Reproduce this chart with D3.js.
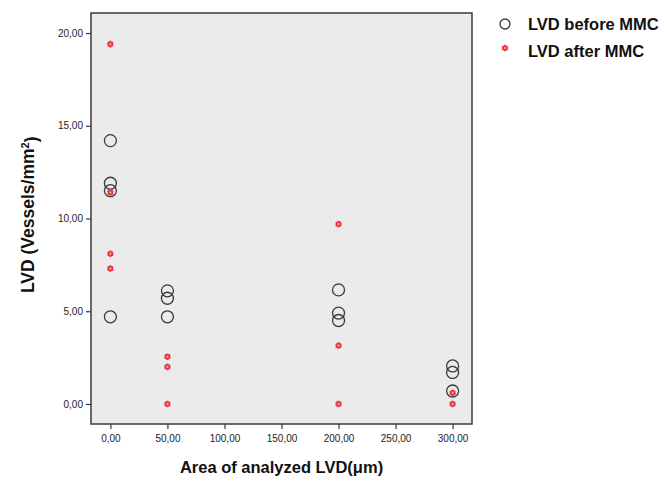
<!DOCTYPE html>
<html>
<head>
<meta charset="utf-8">
<script src="https://cdn.jsdelivr.net/npm/d3@7"></script>
<style>
    body { margin: 0; background: #fff; }
    svg { display: block; font-family: "Liberation Sans", Arial, sans-serif; }
</style>
</head>
<body>
<svg id="chart" width="665" height="482"></svg>
<script>
// Values
const xTicks = [0, 50, 100, 150, 200, 250, 300];
const yTicks = [0, 5, 10, 15, 20];

const beforeX = [0, 0, 0, 0, 50, 50, 50, 200, 200, 200, 300, 300, 300];
const beforeY = [14.2, 11.9, 11.5, 4.7, 6.1, 5.7, 4.7, 6.15, 4.9, 4.5, 2.05, 1.7, 0.7];

const afterX = [0, 0, 0, 0, 50, 50, 50, 200, 200, 200, 300, 300];
const afterY = [19.4, 11.4, 8.1, 7.3, 2.55, 2.0, 0, 9.7, 3.15, 0, 0.6, 0];

const svg = d3.select("#chart");
const plot = { left: 91, top: 13, right: 472, bottom: 424 };

const x = d3.scaleLinear().domain([-17, 317]).range([plot.left, plot.right]);
const y = d3.scaleLinear().domain([-1.08, 21.08]).range([plot.bottom, plot.top]);

const fmt = d => d.toFixed(2).replace(".", ",");

// Plot background and frame
svg.append("rect")
    .attr("x", plot.left).attr("y", plot.top)
    .attr("width", plot.right - plot.left).attr("height", plot.bottom - plot.top)
    .attr("fill", "#ebebeb")
    .attr("stroke", "#3a3a3a")
    .attr("stroke-width", 1.5);

// Axes
const xAxis = svg.append("g")
    .attr("transform", `translate(0,${plot.bottom})`)
    .call(d3.axisBottom(x).tickValues(xTicks).tickFormat(fmt).tickSize(5).tickSizeOuter(0));
const yAxis = svg.append("g")
    .attr("transform", `translate(${plot.left},0)`)
    .call(d3.axisLeft(y).tickValues(yTicks).tickFormat(fmt).tickSize(5).tickSizeOuter(0));

[xAxis, yAxis].forEach(g => {
    g.select(".domain").remove();
    g.selectAll(".tick line").attr("stroke", "#3a3a3a").attr("stroke-width", 1.2);
    g.selectAll(".tick text")
        .attr("fill", "#222")
        .style("font-size", "10px")
        .style("font-family", "'Liberation Sans', Arial, sans-serif");
});
xAxis.selectAll(".tick text").attr("dy", "0.95em");

// Axis titles
svg.append("text")
    .attr("x", x(150))
    .attr("y", 473)
    .attr("text-anchor", "middle")
    .style("font-size", "16.5px")
    .style("font-weight", "bold")
    .attr("fill", "#111")
    .text("Area of analyzed LVD(\u03bcm)");

const yTitle = svg.append("text")
    .attr("transform", `translate(34,${y(10.2)}) rotate(-90)`)
    .attr("text-anchor", "middle")
    .style("font-size", "17.5px")
    .style("font-weight", "bold")
    .attr("fill", "#111");
yTitle.append("tspan").text("LVD (Vessels/mm");
yTitle.append("tspan").attr("dy", "-0.45em").style("font-size", "11px").text("2");
yTitle.append("tspan").attr("dy", "0.45em").text(")");

// Marker helpers
function drawBefore(g, cx, cy, r = 6) {
    g.append("circle")
        .attr("cx", cx).attr("cy", cy).attr("r", r)
        .attr("fill", "none")
        .attr("stroke", "#3a3a3a")
        .attr("stroke-width", 1.3);
}
function drawAfter(g, cx, cy) {
    g.append("path")
        .attr("transform", `translate(${cx},${cy})`)
        .attr("d", d3.symbol().type(d3.symbolAsterisk).size(30))
        .attr("stroke", "#f0364e")
        .attr("stroke-width", 2.2);
    g.append("circle")
        .attr("cx", cx).attr("cy", cy).attr("r", 2.6)
        .attr("fill", "#f0364e");
    g.append("circle")
        .attr("cx", cx).attr("cy", cy).attr("r", 1)
        .attr("fill", "#f6c36a");
}

const marks = svg.append("g");
beforeX.forEach((v, i) => drawBefore(marks, x(v), y(beforeY[i])));
afterX.forEach((v, i) => drawAfter(marks, x(v), y(afterY[i])));

// Legend
const legend = svg.append("g");
const legendItems = [
    { label: "LVD before MMC", draw: (g, cx, cy) => drawBefore(g, cx, cy, 5), yPos: 24, textY: 24 },
    { label: "LVD after MMC", draw: drawAfter, yPos: 48, textY: 51 }
];
legendItems.forEach(item => {
    item.draw(legend, 505, item.yPos);
    legend.append("text")
        .attr("x", 528)
        .attr("y", item.textY)
        .attr("dy", "0.35em")
        .style("font-size", "16.5px")
        .style("font-weight", "bold")
        .attr("fill", "#111")
        .text(item.label);
});
</script>
</body>
</html>
